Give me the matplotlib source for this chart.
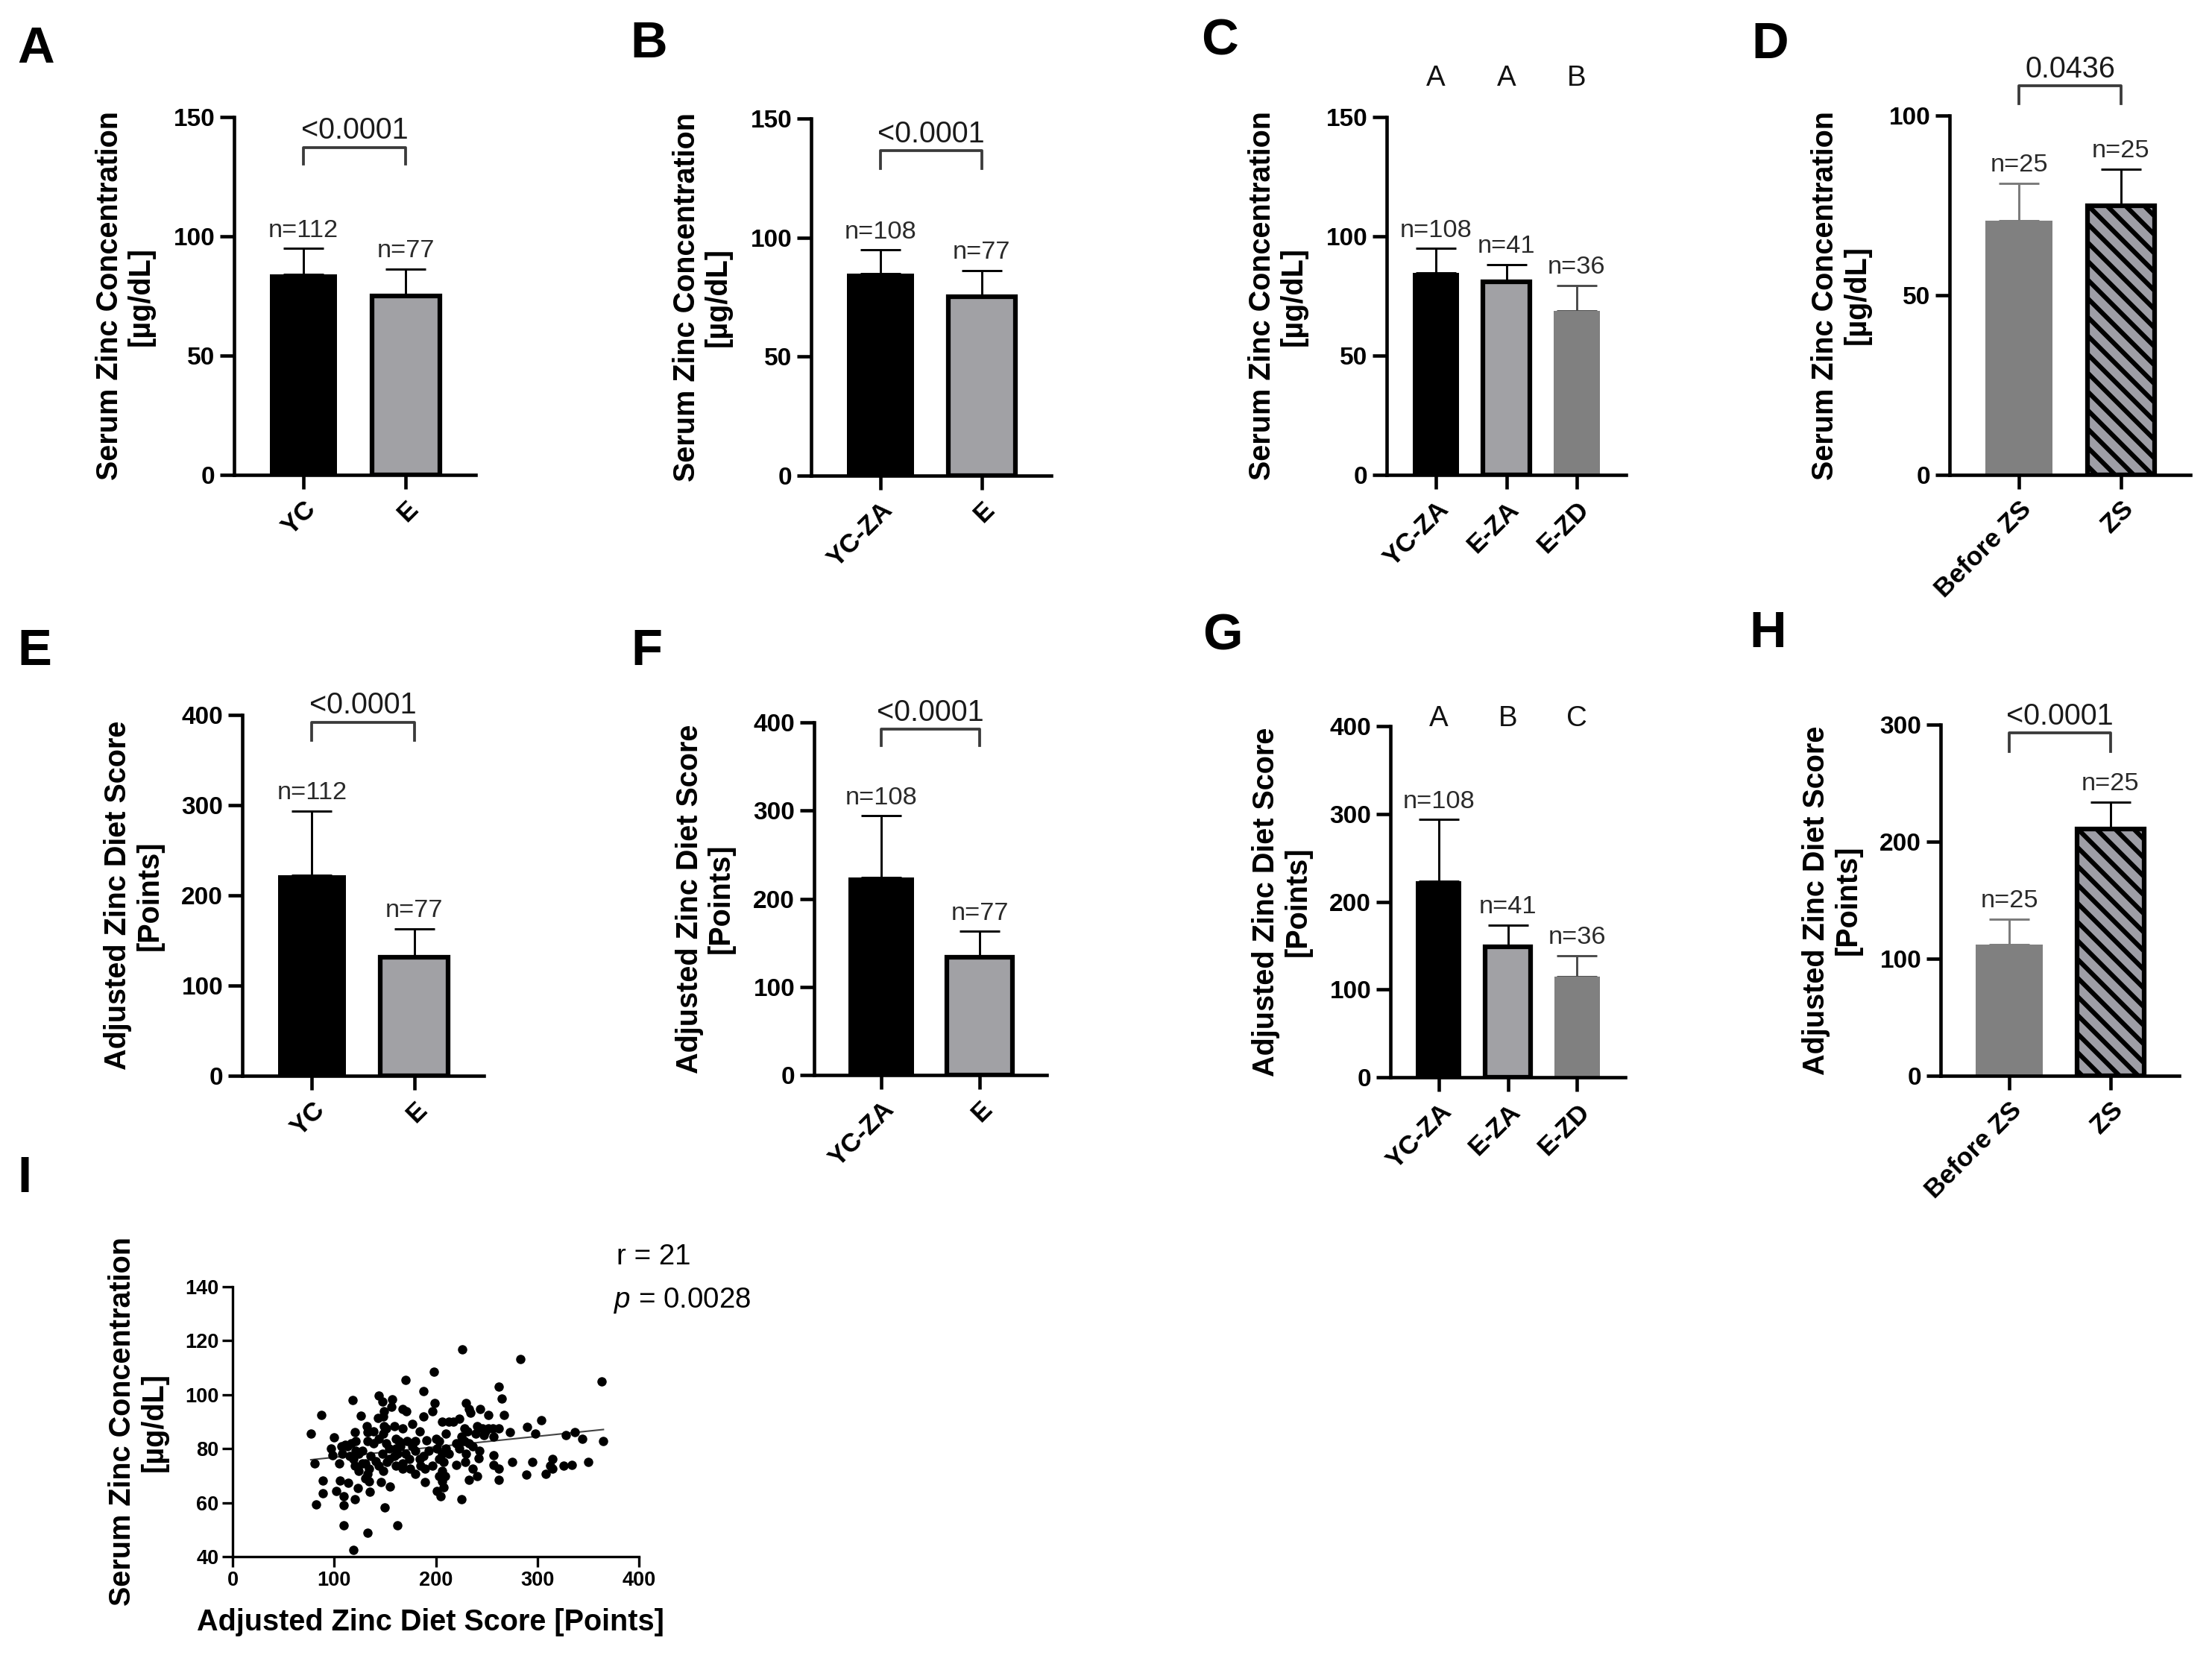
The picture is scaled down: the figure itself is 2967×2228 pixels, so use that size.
import numpy as np
import matplotlib
matplotlib.use("Agg")
import matplotlib.pyplot as plt

plt.rcParams['font.family'] = ['Liberation Sans', 'DejaVu Sans']
plt.rcParams['mathtext.fontset'] = 'custom'
plt.rcParams['mathtext.rm'] = 'Liberation Sans'
plt.rcParams['mathtext.it'] = 'Liberation Sans:italic'
plt.rcParams['hatch.linewidth'] = 3.0

# ---------------- data ----------------
A_cats = ['YC', 'E']
A_mean = [84.1, 75.1]
A_sd = [10.8, 11.3]
A_n = [112, 77]
A_p = '<0.0001'

B_cats = ['YC-ZA', 'E']
B_mean = [85.0, 75.1]
B_sd = [9.8, 11.0]
B_n = [108, 77]
B_p = '<0.0001'

C_cats = ['YC-ZA', 'E-ZA', 'E-ZD']
C_mean = [84.8, 81.0, 68.6]
C_sd = [10.1, 7.1, 10.8]
C_n = [108, 41, 36]
C_letters = ['A', 'A', 'B']

D_cats = ['Before ZS', 'ZS']
D_mean = [70.7, 74.8]
D_sd = [10.4, 10.3]
D_n = [25, 25]
D_p = '0.0436'

E_cats = ['YC', 'E']
E_mean = [222.7, 131.8]
E_sd = [70.6, 31.2]
E_n = [112, 77]
E_p = '<0.0001'

F_cats = ['YC-ZA', 'E']
F_mean = [224.0, 134.0]
F_sd = [70.0, 29.0]
F_n = [108, 77]
F_p = '<0.0001'

G_cats = ['YC-ZA', 'E-ZA', 'E-ZD']
G_mean = [223.0, 148.4, 114.5]
G_sd = [70.7, 25.1, 23.9]
G_n = [108, 41, 36]
G_letters = ['A', 'B', 'C']

H_cats = ['Before ZS', 'ZS']
H_mean = [112.0, 210.8]
H_sd = [21.7, 22.9]
H_n = [25, 25]
H_p = '<0.0001'

# panel I scatter: adjusted zinc diet score (x) vs serum zinc (y)
I_score = [77, 87.5, 81, 82, 89, 89, 100, 97, 98, 105, 106, 102, 109, 109, 109,
           114, 118, 111, 120, 121, 119, 120, 119, 126, 123, 124, 132, 133, 131,
           133, 134, 135, 133, 144, 143, 146, 150, 147.5, 157, 151.5, 154, 147.5,
           141, 152, 155, 162, 170, 167, 171, 177, 167, 164, 162, 167, 177, 180,
           188, 188, 184, 191, 188, 189, 189, 198, 199, 197, 201, 203, 201, 205,
           206, 209, 208, 208, 206, 210, 217, 223, 226, 230, 233, 228, 225, 223,
           226, 229, 220, 236, 236, 233, 241, 225, 234, 244, 241, 239, 243, 242,
           252, 249, 252, 262, 265, 267, 262, 257, 257, 262, 262, 273, 275, 283,
           290, 289, 298, 295, 304, 308, 315, 313, 315, 328, 337, 326, 334, 344,
           350, 363, 365,
           115, 117, 128, 136, 139, 144, 148, 151, 154, 159, 161, 165, 170, 174,
           172, 175, 180, 184, 185, 144, 148, 134, 128, 121, 107, 108, 161, 167,
           148, 149, 156, 200, 203, 210, 213, 206, 213, 220, 230, 233, 246, 256,
           257, 247, 231, 228, 193, 197, 203, 206, 124, 131, 120, 113, 133, 139,
           149, 159, 161, 180]
I_serum = [85.5, 92.6, 74.5, 59.3, 68.2, 63.5, 84.2, 80, 77.7, 74.5, 68.2, 64.4,
           62.4, 59, 51.5, 67.3, 98, 81.4, 86, 82.8, 76.3, 61.4, 42.6, 92.2, 65.3,
           78.2, 88.3, 82.8, 74.5, 70.8, 68, 64, 48.9, 99.8, 91.5, 67.6, 58.1,
           97.5, 98.2, 87.4, 80, 78.2, 75.4, 75, 66, 51.5, 105.6, 94.7, 93.8, 89.2,
           87.4, 82.8, 78.2, 74.5, 80.9, 70.8, 101.2, 92, 86.5, 83.2, 77.3, 72.7,
           67.6, 108.5, 97, 93.8, 80, 76.3, 64.4, 62.5, 71.7, 69.9, 65.8, 75, 90.1,
           85.5, 90.1, 91.2, 116.8, 97, 94.7, 87.4, 84.6, 80, 82.8, 75, 74, 81,
           72.7, 68.5, 69.9, 61.2, 93.3, 94.7, 88.3, 85.5, 79.1, 76.5, 92.5, 86.5,
           87.4, 103, 98.6, 92.6, 87.4, 77.7, 74, 72.7, 68.5, 86, 75.1, 113.1,
           88.1, 70.4, 85.7, 75.1, 90.6, 70.8, 76.3, 73.6, 72.7, 85.1, 86, 73.6,
           74, 83.7, 75.1, 104.9, 82.8,
           77.2, 81.9, 79.1, 77.3, 81.9, 83.7, 85.5, 81.9, 76.3, 77.3, 83.7, 80.9,
           78.2, 76.3, 82.8, 72.7, 79.1, 76.3, 73.6, 73.6, 71.7, 72.7, 74.5, 79.1,
           80.9, 78.2, 73.6, 72.7, 92, 93.8, 95.6, 83.7, 82.8, 80, 78.2, 78.2,
           90.1, 81.9, 78.2, 81.9, 87.4, 87.4, 84.6, 85, 86.5, 82.8, 79.1, 73.6,
           69.9, 68, 71.7, 69, 73.6, 80.9, 86, 86.5, 88.3, 88.3, 80, 82.8]
I_fit_slope = 0.0389
I_fit_intercept = 72.9
I_r_text = 'r = 21'
I_p_text = '$p$ = 0.0028'

# ---------------- layout ----------------
W, H = 2967, 2228
DPI = 150
fig = plt.figure(figsize=(W / DPI, H / DPI), dpi=DPI)


def rect(l, r, t, b):
    return [l / W, 1 - b / H, (r - l) / W, (b - t) / H]


BLACK = dict(fc='#000000', ec='#000000', lw=0, hatch=None, err='#000000')
GREY_E = dict(fc='#a1a1a5', ec='#000000', lw=3.0, hatch=None, err='#000000')
GREY_D = dict(fc='#808080', ec='#808080', lw=0, hatch=None, err='#4a4a4a')
GREY_B = dict(fc='#808080', ec='#808080', lw=0, hatch=None, err='#7a7a7a')
HATCH = dict(fc='#9e9ea6', ec='#000000', lw=3.0, hatch='\\\\', err='#000000')

SZ_TICK = 16
SZ_XTICK = 17
SZ_LAB = 19
SZ_N = 16.5
SZ_P = 19
SZ_LET = 18.5


def bar_panel(r, cats, means, sds, ns, ylim, yticks, ylabel, styles,
              pval=None, bracket=None, letters=None, letter_y=None):
    ax = fig.add_axes(rect(*r))
    x = np.arange(len(cats))
    for i in range(len(cats)):
        st = styles[i]
        ax.bar(x[i], means[i], width=0.66, color=st['fc'], edgecolor=st['ec'],
               linewidth=st['lw'], hatch=st['hatch'], zorder=2)
        ax.errorbar(x[i], means[i], yerr=[[0], [sds[i]]], fmt='none',
                    ecolor=st['err'], elinewidth=1.4, capsize=13, capthick=1.4,
                    zorder=1)
        ax.annotate(f'n={ns[i]}', (x[i], means[i] + sds[i]), xytext=(0, 7.5),
                    textcoords='offset points', ha='center', va='baseline',
                    fontsize=SZ_N, color='#2a2a2a', annotation_clip=False)
    margin = 0.68 if len(cats) == 2 else 0.70
    ax.set_xlim(-margin, len(cats) - 1 + margin)
    ax.set_ylim(*ylim)
    ax.set_yticks(yticks)
    ax.set_xticks(x)
    ax.set_xticklabels(cats)
    for s in ['top', 'right']:
        ax.spines[s].set_visible(False)
    for s in ['left', 'bottom']:
        ax.spines[s].set_linewidth(2.2)
    ax.tick_params(axis='both', length=9, width=2.2)
    ax.tick_params(axis='y', pad=3.4, labelsize=SZ_TICK)
    ax.tick_params(axis='x', pad=5, labelsize=SZ_XTICK)
    for lab in ax.get_yticklabels() + ax.get_xticklabels():
        lab.set_fontweight('bold')
    plt.setp(ax.get_xticklabels(), rotation=45, ha='right', va='top',
             rotation_mode='anchor')
    ax.set_ylabel(ylabel, fontsize=SZ_LAB, fontweight='bold', va='center',
                  linespacing=1.15)
    wpx = r[1] - r[0]
    ax.yaxis.set_label_coords(-146 / wpx, 0.5)
    if bracket is not None:
        yb, yl = bracket
        ax.plot([x[0], x[0], x[-1], x[-1]], [yl, yb, yb, yl], color='#3a3a3a',
                lw=1.8, clip_on=False, zorder=3)
        ax.annotate(pval, ((x[0] + x[-1]) / 2, yb), xytext=(0, 5.5),
                    textcoords='offset points', ha='center', va='baseline',
                    fontsize=SZ_P, color='#1a1a1a', annotation_clip=False)
    if letters is not None:
        for i, L in enumerate(letters):
            ax.text(x[i], letter_y, L, ha='center', va='baseline',
                    fontsize=SZ_LET, color='#111111', clip_on=False)
    return ax


lab_serum = 'Serum Zinc Concentration\n[µg/dL]'
lab_score = 'Adjusted Zinc Diet Score\n[Points]'

bar_panel((314, 637.6, 157, 637), A_cats, A_mean, A_sd, A_n, (0, 150),
          [0, 50, 100, 150], lab_serum, [BLACK, GREY_E], pval=A_p,
          bracket=(137.3, 130.3))
bar_panel((1088, 1409.5, 159, 638), B_cats, B_mean, B_sd, B_n, (0, 150),
          [0, 50, 100, 150], lab_serum, [BLACK, GREY_E], pval=B_p,
          bracket=(136.5, 129.0))
bar_panel((1860, 2181, 157, 637), C_cats, C_mean, C_sd, C_n, (0, 150),
          [0, 50, 100, 150], lab_serum, [BLACK, GREY_E, GREY_D],
          letters=C_letters, letter_y=163)
bar_panel((2615, 2938, 155, 637), D_cats, D_mean, D_sd, D_n, (0, 100),
          [0, 50, 100], lab_serum, [GREY_B, HATCH], pval=D_p,
          bracket=(108.3, 103.4))

bar_panel((325, 649, 959, 1443), E_cats, E_mean, E_sd, E_n, (0, 400),
          [0, 100, 200, 300, 400], lab_score, [BLACK, GREY_E], pval=E_p,
          bracket=(392, 372))
bar_panel((1092, 1404, 969, 1442), F_cats, F_mean, F_sd, F_n, (0, 400),
          [0, 100, 200, 300, 400], lab_score, [BLACK, GREY_E], pval=F_p,
          bracket=(392, 374))
bar_panel((1865, 2180, 974, 1445), G_cats, G_mean, G_sd, G_n, (0, 400),
          [0, 100, 200, 300, 400], lab_score, [BLACK, GREY_E, GREY_D],
          letters=G_letters, letter_y=400)
bar_panel((2603, 2923, 972, 1443), H_cats, H_mean, H_sd, H_n, (0, 300),
          [0, 100, 200, 300], lab_score, [GREY_B, HATCH], pval=H_p,
          bracket=(293, 277))

# ---------------- panel I ----------------
axI = fig.add_axes(rect(312, 857, 1726, 2088))
axI.scatter(I_score, I_serum, s=36, color='black', linewidths=0, zorder=3)
xs = np.array([min(I_score), max(I_score)])
axI.plot(xs, I_fit_intercept + I_fit_slope * xs, color='#444444', lw=1.0,
         zorder=2)
axI.set_xlim(0, 400)
axI.set_ylim(40, 140)
axI.set_xticks([0, 100, 200, 300, 400])
axI.set_yticks([40, 60, 80, 100, 120, 140])
for s in ['top', 'right']:
    axI.spines[s].set_visible(False)
for s in ['left', 'bottom']:
    axI.spines[s].set_linewidth(1.6)
axI.tick_params(axis='both', length=6.5, width=1.6, labelsize=13, pad=2.5)
for lab in axI.get_xticklabels() + axI.get_yticklabels():
    lab.set_fontweight('bold')
axI.set_ylabel(lab_serum, fontsize=SZ_LAB, fontweight='bold', va='center',
               linespacing=1.15)
axI.yaxis.set_label_coords(-127 / 545, 0.5)
axI.set_xlabel('Adjusted Zinc Diet Score [Points]', fontsize=SZ_LAB,
               fontweight='bold', va='center')
axI.xaxis.set_label_coords(0.487, -88 / 362)
fig.text(827 / W, 1 - 1686 / H, I_r_text, fontsize=18.5, va='center',
         ha='left')
fig.text(823 / W, 1 - 1744 / H, I_p_text, fontsize=18.5, va='center',
         ha='left')

# ---------------- panel letters ----------------
for L, (lx, ly) in {'A': (23, 84), 'B': (845, 77), 'C': (1611, 74),
                    'D': (2349, 78), 'E': (23, 892), 'F': (846, 892),
                    'G': (1613, 871), 'H': (2346, 868),
                    'I': (23, 1599)}.items():
    fig.text(lx / W, 1 - ly / H, L, fontsize=33, fontweight='bold',
             ha='left', va='baseline')

fig.savefig('out.png', dpi=DPI, facecolor='white')
